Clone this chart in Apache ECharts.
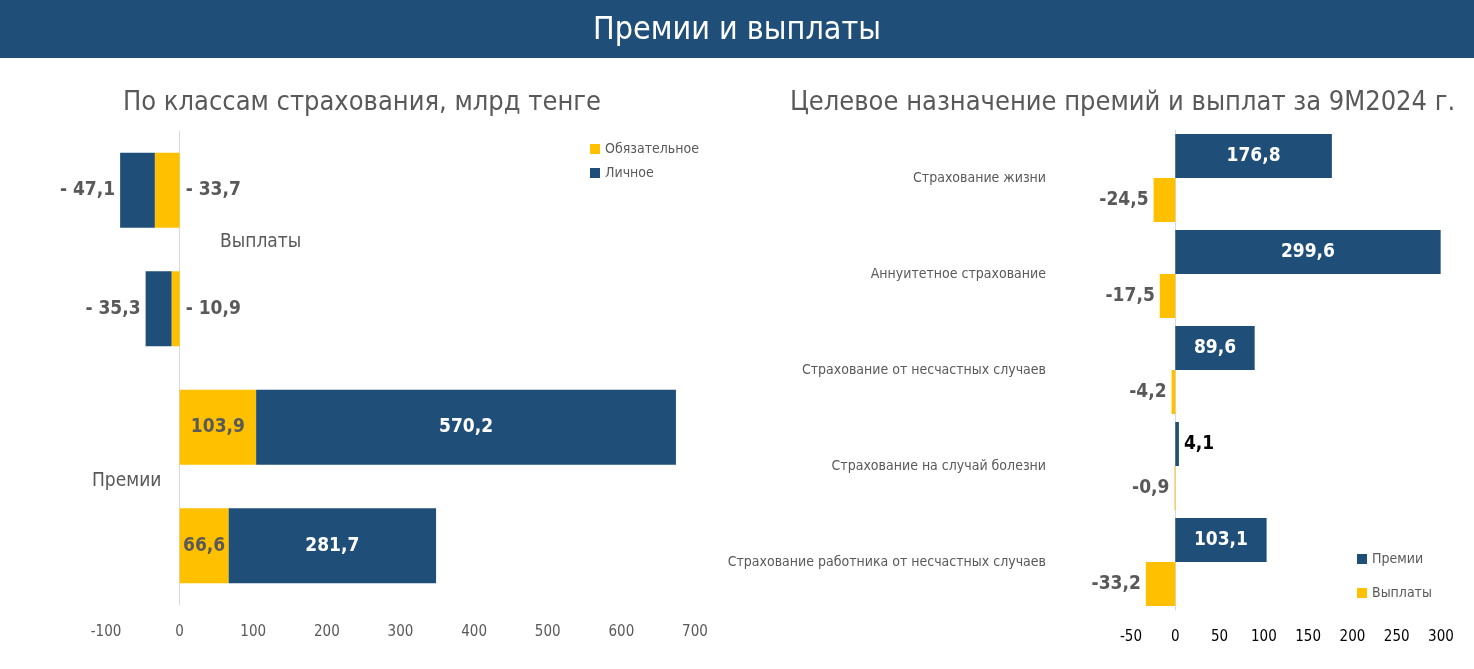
<!DOCTYPE html>
<html style="height: 100%">
<head>
    <meta charset="utf-8">
</head>
<body style="height: 100%; margin: 0">
    <div id="container" style="width: 1474px; height: 669px"></div>
    <script type="text/javascript" src="https://cdn.jsdelivr.net/npm/echarts@6/dist/echarts.min.js"></script>
    <script type="text/javascript">
        var leftCats = ['9M24', '9M23', '9M24', '9M23'];
        var mandatory = [-33.7, -10.9, 103.9, 66.6];
        var personal = [-47.1, -35.3, 570.2, 281.7];

        var rightCats = ['Страхование жизни', 'Аннуитетное страхование', 'Страхование от несчастных случаев',
            'Страхование на случай болезни', 'Страхование работника от несчастных случаев'];
        var premiums = [176.8, 299.6, 89.6, 4.1, 103.1];
        var payouts = [-24.5, -17.5, -4.2, -0.9, -33.2];

        var font = '"DejaVu Sans Condensed", "Liberation Sans Narrow", sans-serif';
        var blue = '#1f4e79', yellow = '#ffc000', grey = '#595959';

        function fmt(v) { return String(v).replace('.', ','); }
        function fmtLeft(v) { return v < 0 ? '- ' + fmt(-v) : fmt(v); }

        var myChart = echarts.init(document.getElementById('container'));
        myChart.setOption({
            backgroundColor: '#fff',
            textStyle: { fontFamily: font },
            title: [
                { text: 'Премии и выплаты', left: 'center', top: 10,
                  textStyle: { color: '#fff', fontSize: 32, fontWeight: 'normal', fontFamily: font } },
                { text: 'По классам страхования, млрд тенге', left: 118, top: 84,
                  textStyle: { color: grey, fontSize: 27, fontWeight: 'normal', fontFamily: font } },
                { text: 'Целевое назначение премий и выплат за 9M2024 г.', left: 785, top: 84,
                  textStyle: { color: grey, fontSize: 27, fontWeight: 'normal', fontFamily: font } }
            ],
            graphic: [
                { type: 'rect', left: 0, top: 0, z: -1, shape: { width: 1474, height: 58 }, style: { fill: blue } },
                { type: 'text', left: 220, top: 233, style: { text: 'Выплаты', fill: grey, font: '19px ' + font } },
                { type: 'text', left: 92, top: 472, style: { text: 'Премии', fill: grey, font: '19px ' + font } }
            ],
            legend: [
                { data: ['Обязательное', 'Личное'], orient: 'vertical', left: 585, top: 137, itemWidth: 10, itemHeight: 10,
                  itemGap: 10, icon: 'rect', textStyle: { color: grey, fontSize: 14 } },
                { data: ['Премии', 'Выплаты'], orient: 'vertical', left: 1352, top: 547, itemWidth: 10, itemHeight: 10,
                  itemGap: 20, icon: 'rect', textStyle: { color: grey, fontSize: 14 } }
            ],
            grid: [
                { left: 106, right: 779, top: 131, bottom: 64, outerBoundsMode: 'none', containLabel: false },
                { left: 1131, right: 33, top: 130, bottom: 59, outerBoundsMode: 'none', containLabel: false }
            ],
            xAxis: [
                { gridIndex: 0, type: 'value', min: -100, max: 700, interval: 100, splitLine: { show: false },
                  axisLine: { show: false }, axisLabel: { color: grey, fontSize: 15, margin: 20 } },
                { gridIndex: 1, type: 'value', min: -50, max: 300, interval: 50, splitLine: { show: false },
                  axisLine: { show: false }, axisLabel: { color: '#000', fontSize: 15, margin: 20 } }
            ],
            yAxis: [
                { gridIndex: 0, type: 'category', data: leftCats, inverse: true,
                  axisLine: { onZero: true, lineStyle: { color: '#d9d9d9' } }, axisTick: { show: false },
                  axisLabel: { color: grey, fontSize: 14, margin: 114 } },
                { gridIndex: 1, type: 'category', data: rightCats, inverse: true,
                  axisLine: { onZero: true, lineStyle: { color: '#d9d9d9' } }, axisTick: { show: false },
                  axisLabel: { color: grey, fontSize: 14, margin: 85 } }
            ],
            series: [
                { name: 'Обязательное', type: 'bar', stack: 'a', xAxisIndex: 0, yAxisIndex: 0, barWidth: 75,
                  itemStyle: { color: yellow }, data: mandatory.map(function (v) {
                      return { value: v, label: v < 0 ? { position: 'right', distance: 6 } : { position: 'inside' } };
                  }),
                  label: { show: true, fontSize: 19, fontWeight: 'bold', color: grey,
                           formatter: function (p) { return fmtLeft(p.value); } } },
                { name: 'Личное', type: 'bar', stack: 'a', xAxisIndex: 0, yAxisIndex: 0, barWidth: 75,
                  itemStyle: { color: blue }, data: personal.map(function (v) {
                      return { value: v, label: v < 0 ? { position: 'left', color: grey } : { position: 'inside', color: '#fff' } };
                  }),
                  label: { show: true, fontSize: 19, fontWeight: 'bold', formatter: function (p) { return fmtLeft(p.value); } } },
                { name: 'Премии', type: 'bar', xAxisIndex: 1, yAxisIndex: 1, barWidth: 44, barGap: '0%',
                  itemStyle: { color: blue }, data: premiums.map(function (v) {
                      return { value: v, label: v < 20 ? { position: 'right', color: '#000' } : { position: 'inside', color: '#fff' } };
                  }),
                  label: { show: true, fontSize: 19, fontWeight: 'bold', formatter: function (p) { return fmt(p.value); } } },
                { name: 'Выплаты', type: 'bar', xAxisIndex: 1, yAxisIndex: 1, barWidth: 44, barGap: '0%',
                  itemStyle: { color: yellow }, data: payouts,
                  label: { show: true, position: 'left', fontSize: 19, fontWeight: 'bold', color: grey,
                           formatter: function (p) { return fmt(p.value); } } }
            ]
        });
    </script>
</body>
</html>
